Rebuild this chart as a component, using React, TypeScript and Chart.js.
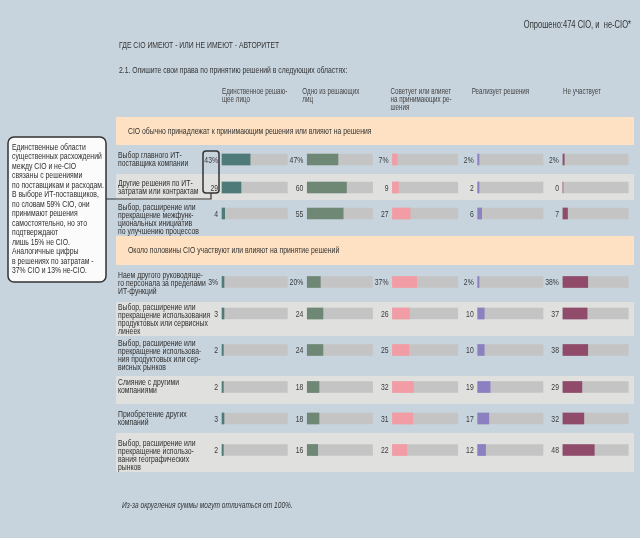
import React, { useEffect, useRef } from "react";
import { Chart, registerables } from "chart.js";

Chart.register(...registerables);

// ---------- data ----------
const COLUMN_HEADERS: string[][] = [
  ["Единственное решаю-", "щее лицо"],
  ["Одно из решающих", "лиц"],
  ["Советует или влияет", "на принимающих ре-", "шения"],
  ["Реализует решения"],
  ["Не участвует"],
];

const SECTION_TITLES = [
  "CIO обычно принадлежат к принимающим решения или влияют на решения",
  "Около половины CIO участвуют или влияют на принятие решений",
];

const ROW_LABELS: string[][] = [
  ["Выбор главного ИТ-", "поставщика компании"],
  ["Другие решения по ИТ-", "затратам или контрактам"],
  ["Выбор, расширение или", "прекращение межфунк-", "циональных инициатив", "по улучшению процессов"],
  ["Наем другого руководяще-", "го персонала за пределами", "ИТ-функций"],
  ["Выбор, расширение или", "прекращение использования", "продуктовых или сервисных", "линеек"],
  ["Выбор, расширение или", "прекращение использова-", "ния продуктовых или сер-", "висных рынков"],
  ["Слияние с другими", "компаниями"],
  ["Приобретение других", "компаний"],
  ["Выбор, расширение или", "прекращение использо-", "вания географических", "рынков"],
];

const SOLE_DECIDER = [43, 29, 4, 3, 3, 2, 2, 3, 2];
const ONE_OF_DECIDERS = [47, 60, 55, 20, 24, 24, 18, 18, 16];
const ADVISES = [7, 9, 27, 37, 26, 25, 32, 31, 22];
const IMPLEMENTS = [2, 2, 6, 2, 10, 10, 19, 17, 12];
const NOT_INVOLVED = [2, 0, 7, 38, 37, 38, 29, 32, 48];
const PERCENT_ROWS = [0, 3];

const SURVEYED = "Опрошено:474 CIO, и  не-CIO*";
const TITLE = "ГДЕ CIO ИМЕЮТ - ИЛИ НЕ ИМЕЮТ - АВТОРИТЕТ";
const QUESTION = "2.1. Опишите свои права по принятию решений в следующих областях:";
const FOOTNOTE = "Из-за округления суммы могут отличаться от 100%.";
const CALLOUT: string[] = [
  "Единственные области",
  "существенных расхождений",
  "между CIO и не-CIO",
  "связаны с решениями",
  "по поставщикам и расходам.",
  "В выборе ИТ-поставщиков,",
  "по словам 59% CIO, они",
  "принимают решения",
  "самостоятельно, но это",
  "подтверждают",
  "лишь 15% не CIO.",
  "Аналогичные цифры",
  "в решениях по затратам -",
  "37% CIO и 13% не-CIO.",
];

// ---------- layout / style ----------
const W = 640;
const H = 538;
const FONT = "'Liberation Sans', Arial, sans-serif";
const SX = 0.72; // horizontal condensing of the text
const FS = 9.5;
const ROW_Y = [159.5, 187.5, 213.5, 282, 313.5, 350, 387, 418.5, 450];
const SECTION_BANDS = [[117, 145], [236, 265]];
const SHADED_BANDS = [[174, 200], [302, 336], [376, 404], [433, 472]];
const COL_GAP = 130.5;
const HEADER_SHIFT = [0, -5, -2, -6, 0];
const COLORS = ["#4e7b79", "#6f8775", "#f29da5", "#8c80c0", "#8f4b69"];
const TRACK = "#c4c4c4";
const BG = "#c7d4de";

const SERIES = [SOLE_DECIDER, ONE_OF_DECIDERS, ADVISES, IMPLEMENTS, NOT_INVOLVED];

function txt(ctx: CanvasRenderingContext2D, s: string, x: number, y: number, size: number, color: string, align: CanvasTextAlign = "left", style = "") {
  ctx.save();
  ctx.font = `${style} ${size}px ${FONT}`.trim();
  ctx.fillStyle = color;
  ctx.textAlign = align;
  ctx.textBaseline = "middle";
  ctx.translate(x, y);
  ctx.scale(SX, 1);
  ctx.fillText(s, 0, 0);
  ctx.restore();
}

const decorPlugin = {
  id: "decor",
  beforeDraw(chart: any) {
    const { ctx } = chart;
    const ys = chart.scales.y;
    ctx.save();
    ctx.fillStyle = BG;
    ctx.fillRect(0, 0, W, H);
    ctx.fillStyle = "#fde1c2";
    SECTION_BANDS.forEach(([a, b]) => {
      const t = ys.getPixelForValue(a);
      const bt = ys.getPixelForValue(b);
      ctx.fillRect(116, t, 634 - 116, bt - t);
    });
    ctx.fillStyle = "#e0e0df";
    SHADED_BANDS.forEach(([a, b]) => {
      const t = ys.getPixelForValue(a);
      const bt = ys.getPixelForValue(b);
      ctx.fillRect(116, t, 634 - 116, bt - t);
    });
    ctx.restore();
  },
  afterDatasetsDraw(chart: any) {
    const { ctx } = chart;
    const xs = chart.scales.x;
    const ys = chart.scales.y;
    ctx.save();
    // top texts
    txt(ctx, SURVEYED, 631, 25, 10.5, "#333", "right");
    txt(ctx, TITLE, 119, 45, FS, "#333");
    txt(ctx, QUESTION, 119, 70, FS, "#333");
    COLUMN_HEADERS.forEach((lines, c) => {
      const x = xs.getPixelForValue(c * COL_GAP) + HEADER_SHIFT[c];
      lines.forEach((l, i) => txt(ctx, l, x, 92 + i * 8, 8.7, "#444"));
    });
    txt(ctx, SECTION_TITLES[0], 128, 131, FS, "#333");
    txt(ctx, SECTION_TITLES[1], 128, 250.5, FS, "#333");

    // row labels and values
    ROW_LABELS.forEach((lines, r) => {
      const cy = ys.getPixelForValue(ROW_Y[r]);
      const start = cy + (lines.length === 2 ? -4.5 : -6.5);
      lines.forEach((l, i) => txt(ctx, l, 118, start + i * 8, FS, "#2f2f2f"));
      SERIES.forEach((vals, c) => {
        const x = xs.getPixelForValue(c * COL_GAP) - 4;
        const s = String(vals[r]) + (PERCENT_ROWS.includes(r) ? "%" : "");
        txt(ctx, s, x, cy + 0.5, FS, "#3a3a3a", "right");
      });
    });

    // callout box
    ctx.beginPath();
    (ctx as any).roundRect(8, 137, 98, 145, 6);
    ctx.fillStyle = "#fbfbfb";
    ctx.fill();
    ctx.lineWidth = 1.5;
    ctx.strokeStyle = "#333";
    ctx.stroke();
    CALLOUT.forEach((l, i) => txt(ctx, l, 12, 147 + i * 9.5, FS, "#2f2f2f"));

    // bracket around first-column values
    ctx.beginPath();
    (ctx as any).roundRect(203, 151, 16, 42, 3);
    ctx.stroke();
    ctx.beginPath();
    ctx.moveTo(106, 199);
    ctx.lineTo(211, 199);
    ctx.lineTo(211, 193);
    ctx.lineWidth = 1.2;
    ctx.stroke();

    txt(ctx, FOOTNOTE, 122, 505, 9.2, "#333", "left", "italic");
    ctx.restore();
  },
};

export default function App() {
  const ref = useRef<HTMLCanvasElement>(null);
  useEffect(() => {
    if (!ref.current) return;
    const track = ROW_LABELS.flatMap((_, r) =>
      SERIES.map((__, c) => ({ x: [c * COL_GAP, c * COL_GAP + 100], y: ROW_Y[r] }))
    );
    const datasets: any[] = SERIES.map((vals, c) => ({
      label: COLUMN_HEADERS[c].join(" "),
      data: vals.map((v, r) => ({ x: [c * COL_GAP, c * COL_GAP + v], y: ROW_Y[r] })),
      backgroundColor: COLORS[c],
      order: 1,
    }));
    datasets.push({ label: "track", data: track, backgroundColor: TRACK, order: 2 });
    datasets.forEach((d) => {
      d.barThickness = 11;
      d.grouped = false;
      d.borderWidth = 0;
      d.borderSkipped = false;
    });
    const chart = new Chart(ref.current, {
      type: "bar",
      data: { datasets },
      options: {
        indexAxis: "y",
        responsive: false,
        animation: false,
        events: [],
        layout: { padding: 0 },
        scales: {
          x: { type: "linear", min: -340, max: 640, display: false, offset: false },
          y: { type: "linear", min: 0, max: H, reverse: true, display: false, offset: false },
        },
        plugins: { legend: { display: false }, tooltip: { enabled: false } },
      },
      plugins: [decorPlugin],
    } as any);
    return () => chart.destroy();
  }, []);
  return (
    <div style={{ position: "absolute", left: 0, top: 0, width: W, height: H, background: BG }}>
      <canvas ref={ref} width={W} height={H} />
    </div>
  );
}
